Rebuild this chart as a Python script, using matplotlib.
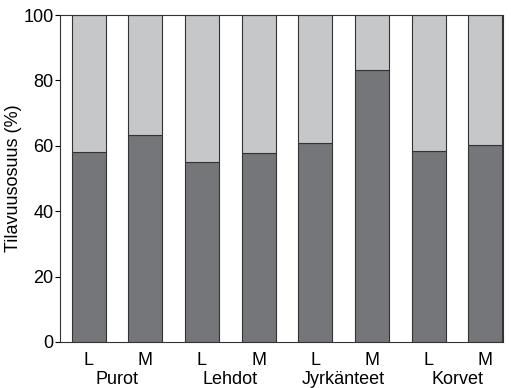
import matplotlib
matplotlib.use("Agg")
import matplotlib.pyplot as plt
import numpy as np

plt.rcParams['font.family'] = ['Liberation Sans', 'DejaVu Sans']

groups = ["Purot", "Lehdot", "Jyrkänteet", "Korvet"]
sub_labels = ["L", "M", "L", "M", "L", "M", "L", "M"]
dark_values = [58.0, 63.3, 55.1, 57.7, 60.8, 83.2, 58.5, 60.3]
light_values = [100 - v for v in dark_values]
yticks = [0, 20, 40, 60, 80, 100]

FS = 13
fig = plt.figure(figsize=(5.11, 3.88), dpi=100)
ax = fig.add_axes([60/511, 1 - 342/388, (503-60)/511, (342-15)/388])

x = np.arange(len(dark_values))
ax.bar(x, dark_values, width=0.6, color="#75767a", edgecolor="#333333", linewidth=0.8)
ax.bar(x, light_values, bottom=dark_values, width=0.6, color="#c6c7c9", edgecolor="#333333", linewidth=0.8)

ax.set_xlim(-0.503, 7.31)
ax.set_ylim(0, 100)
ax.set_yticks(yticks)
ax.set_yticklabels([str(t) for t in yticks], fontsize=FS)
ax.tick_params(axis='y', direction='out', length=3.6, width=0.8, pad=1)
ax.set_xticks([])
for i, lab in enumerate(sub_labels):
    ax.text(i, -7.0, lab, ha='center', va='baseline', fontsize=FS)
for i, g in enumerate(groups):
    ax.text(2*i + 0.5, -12.9, g, ha='center', va='baseline', fontsize=FS)
ax.set_ylabel("Tilavuusosuus (%)", fontsize=FS, labelpad=1)
for s in ax.spines.values():
    s.set_color("#333333")
    s.set_linewidth(0.8)

fig.savefig("out.png", dpi=100)
